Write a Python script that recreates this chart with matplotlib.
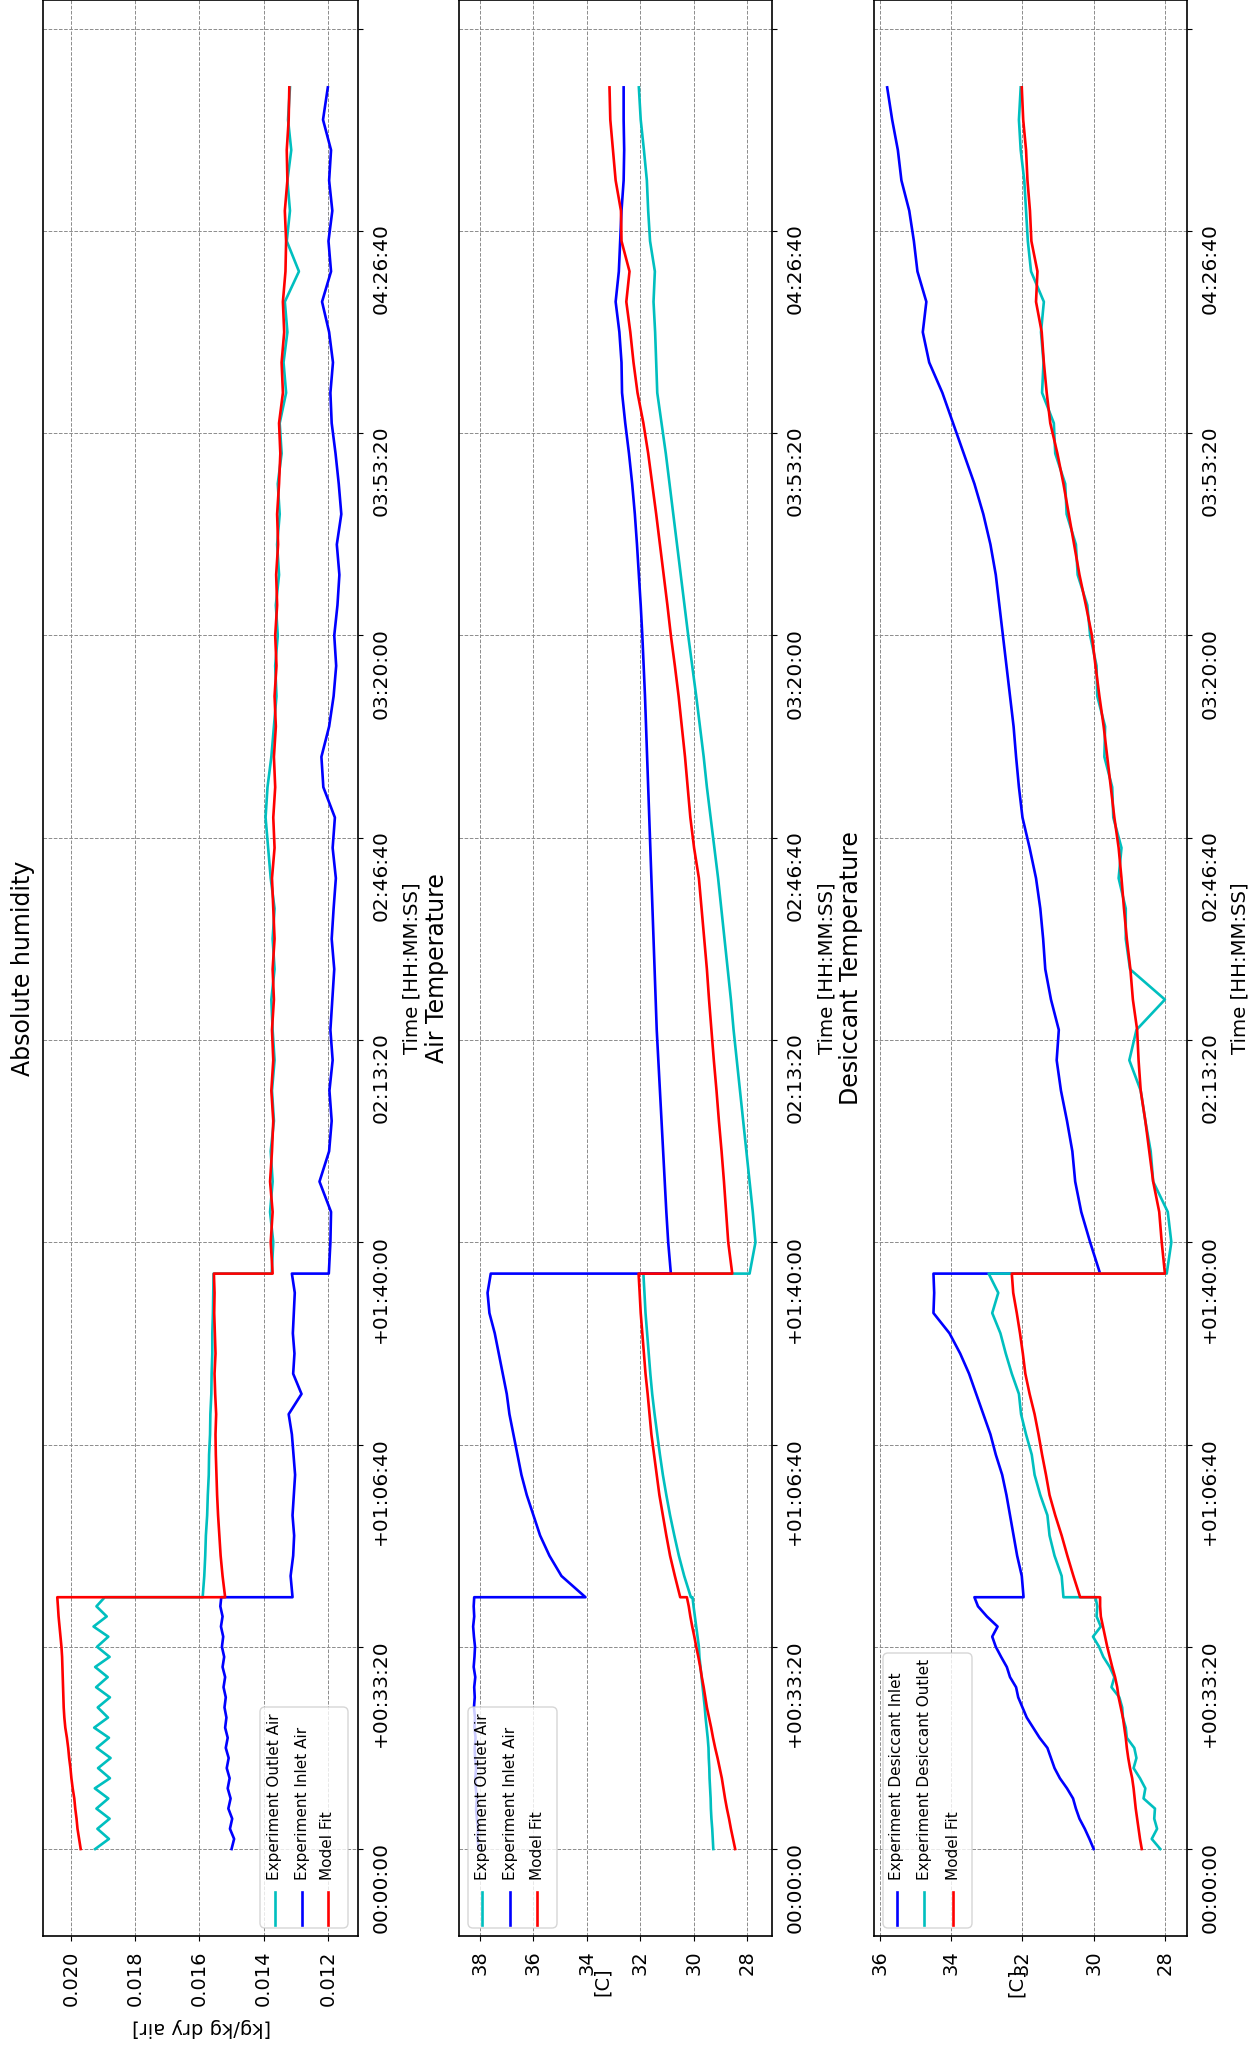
import numpy as np
import matplotlib
matplotlib.use("Agg")
import matplotlib.pyplot as plt
from matplotlib.patches import FancyBboxPatch
from matplotlib.lines import Line2D

# sample times [s]: warm-up phase, first switch, second switch
t_a = np.append(np.arange(0, 2500, 100), 2490)
t_b = np.concatenate([[2490], np.arange(2700, 5600, 200), [5690]])
t_c = np.concatenate([[5690], np.arange(6000, 17200, 300), [17420]])
time = np.concatenate([t_a, t_b, t_c])

time_ticks = [0, 2000, 4000, 6000, 8000, 10000, 12000, 14000, 16000, 18000]
time_labels = ["00:00:00", "+00:33:20", "+01:06:40", "+01:40:00", "02:13:20",
               "02:46:40", "03:20:00", "03:53:20", "04:26:40", ""]

# absolute humidity [kg/kg dry air]
hum_outlet_a = [0.01925, 0.01882, 0.01918, 0.01880, 0.01921, 0.01884, 0.01926, 0.01879, 0.01916, 0.01877,
                0.01920, 0.01882, 0.01928, 0.01885, 0.01917, 0.01879, 0.01922, 0.01886, 0.01925, 0.01880,
                0.01919, 0.01884, 0.01930, 0.01889, 0.01921, 0.01895]
hum_outlet_b = [0.01590, 0.01585, 0.01582, 0.01580, 0.01576, 0.01574, 0.01571, 0.01570, 0.01567, 0.01566,
                0.01563, 0.01562, 0.01560, 0.01560, 0.01558, 0.01557, 0.01556]
hum_outlet_c = [0.01375, 0.01370, 0.01380, 0.01372, 0.01378, 0.01368, 0.01374, 0.01366, 0.01372, 0.01376,
                0.01366, 0.01372, 0.01366, 0.01378, 0.01386, 0.01394, 0.01388, 0.01376, 0.01368, 0.01360,
                0.01364, 0.01356, 0.01362, 0.01352, 0.01358, 0.01350, 0.01356, 0.01344, 0.01350, 0.01330,
                0.01338, 0.01326, 0.01334, 0.01290, 0.01328, 0.01318, 0.01326, 0.01314, 0.01324, 0.01318]

hum_inlet_a = [0.01500, 0.01492, 0.01505, 0.01498, 0.01510, 0.01503, 0.01512, 0.01506, 0.01515, 0.01509,
               0.01518, 0.01512, 0.01520, 0.01516, 0.01522, 0.01518, 0.01525, 0.01520, 0.01528, 0.01523,
               0.01530, 0.01526, 0.01533, 0.01528, 0.01535, 0.01532]
hum_inlet_b = [0.01310, 0.01316, 0.01308, 0.01305, 0.01310, 0.01306, 0.01302, 0.01307, 0.01312, 0.01322,
               0.01282, 0.01308, 0.01304, 0.01309, 0.01306, 0.01303, 0.01312]
hum_inlet_c = [0.01197, 0.01192, 0.01190, 0.01226, 0.01196, 0.01188, 0.01195, 0.01185, 0.01192, 0.01186,
               0.01180, 0.01188, 0.01182, 0.01175, 0.01185, 0.01178, 0.01214, 0.01220, 0.01196, 0.01182,
               0.01174, 0.01180, 0.01170, 0.01164, 0.01172, 0.01158, 0.01166, 0.01176, 0.01188, 0.01192,
               0.01184, 0.01196, 0.01218, 0.01190, 0.01198, 0.01186, 0.01196, 0.01190, 0.01215, 0.01200]

hum_fit_a = [0.01970, 0.01975, 0.01980, 0.01983, 0.01987, 0.01990, 0.01995, 0.01999, 0.02002, 0.02006,
             0.02009, 0.02013, 0.02018, 0.02021, 0.02023, 0.02024, 0.02025, 0.02026, 0.02027, 0.02028,
             0.02030, 0.02033, 0.02036, 0.02039, 0.02041, 0.02043]
hum_fit_b = [0.01520, 0.01528, 0.01534, 0.01538, 0.01542, 0.01545, 0.01547, 0.01549, 0.01550, 0.01548,
             0.01551, 0.01553, 0.01550, 0.01552, 0.01554, 0.01553, 0.01555]
hum_fit_c = [0.01372, 0.01378, 0.01372, 0.01380, 0.01374, 0.01370, 0.01376, 0.01370, 0.01374, 0.01368,
             0.01372, 0.01366, 0.01370, 0.01374, 0.01366, 0.01370, 0.01364, 0.01368, 0.01362, 0.01366,
             0.01360, 0.01364, 0.01358, 0.01361, 0.01355, 0.01358, 0.01352, 0.01348, 0.01352, 0.01340,
             0.01344, 0.01336, 0.01340, 0.01332, 0.01330, 0.01334, 0.01326, 0.01328, 0.01322, 0.01320]

# air temperature [C]
air_outlet_a = [29.26, 29.28, 29.30, 29.33, 29.35, 29.36, 29.38, 29.40, 29.41, 29.43,
                29.44, 29.47, 29.51, 29.55, 29.58, 29.62, 29.66, 29.70, 29.74, 29.78,
                29.80, 29.85, 29.90, 29.95, 30.00, 30.04]
air_outlet_b = [30.10, 30.35, 30.55, 30.72, 30.88, 31.02, 31.15, 31.26, 31.36, 31.46,
                31.55, 31.62, 31.68, 31.74, 31.80, 31.84, 31.88]
air_outlet_c = [27.90, 27.68, 27.78, 27.90, 28.02, 28.14, 28.26, 28.38, 28.50, 28.60,
                28.72, 28.84, 28.96, 29.08, 29.22, 29.36, 29.50, 29.62, 29.76, 29.90,
                30.05, 30.20, 30.34, 30.48, 30.62, 30.76, 30.90, 31.04, 31.20, 31.36,
                31.40, 31.44, 31.50, 31.45, 31.63, 31.70, 31.75, 31.86, 31.98, 32.05]

air_inlet_a = [38.05, 38.10, 38.08, 38.12, 38.15, 38.12, 38.16, 38.18, 38.15, 38.19,
               38.20, 38.17, 38.21, 38.19, 38.23, 38.20, 38.22, 38.18, 38.24, 38.21,
               38.19, 38.23, 38.26, 38.22, 38.24, 38.22]
air_inlet_b = [34.05, 34.95, 35.40, 35.75, 36.00, 36.25, 36.45, 36.60, 36.75, 36.90,
               37.00, 37.15, 37.30, 37.45, 37.65, 37.72, 37.60]
air_inlet_c = [30.85, 30.95, 31.02, 31.08, 31.14, 31.20, 31.26, 31.32, 31.38, 31.42,
               31.46, 31.50, 31.54, 31.58, 31.62, 31.66, 31.70, 31.74, 31.78, 31.82,
               31.87, 31.92, 31.98, 32.05, 32.12, 32.20, 32.30, 32.42, 32.56, 32.68,
               32.70, 32.78, 32.92, 32.80, 32.75, 32.70, 32.62, 32.60, 32.62, 32.62]

air_fit_a = [28.44, 28.52, 28.60, 28.67, 28.75, 28.82, 28.88, 28.94, 29.02, 29.10,
             29.19, 29.27, 29.34, 29.42, 29.50, 29.56, 29.62, 29.69, 29.75, 29.82,
             29.90, 29.97, 30.05, 30.12, 30.18, 30.25]
air_fit_b = [30.50, 30.70, 30.88, 31.02, 31.15, 31.28, 31.38, 31.48, 31.58, 31.65,
             31.72, 31.80, 31.86, 31.92, 31.98, 32.02, 32.06]
air_fit_c = [28.55, 28.70, 28.78, 28.86, 28.95, 29.05, 29.14, 29.24, 29.33, 29.42,
             29.50, 29.60, 29.70, 29.80, 29.98, 30.12, 30.22, 30.32, 30.44, 30.56,
             30.70, 30.85, 30.98, 31.12, 31.26, 31.40, 31.55, 31.70, 31.88, 32.10,
             32.25, 32.37, 32.52, 32.40, 32.70, 32.72, 32.92, 33.02, 33.12, 33.15]

# desiccant temperature [C]
des_inlet_a = [30.00, 30.12, 30.25, 30.40, 30.50, 30.58, 30.75, 30.95, 31.10, 31.20,
               31.30, 31.52, 31.70, 31.88, 32.00, 32.12, 32.18, 32.35, 32.44, 32.60,
               32.75, 32.85, 32.70, 33.00, 33.25, 33.35]
des_inlet_b = [31.97, 32.02, 32.15, 32.25, 32.35, 32.45, 32.57, 32.75, 32.90, 33.10,
               33.30, 33.50, 33.75, 34.05, 34.50, 34.48, 34.50]
des_inlet_c = [29.82, 30.10, 30.35, 30.52, 30.60, 30.75, 30.92, 31.04, 30.98, 31.20,
               31.36, 31.42, 31.50, 31.62, 31.80, 32.00, 32.10, 32.18, 32.25, 32.35,
               32.45, 32.55, 32.65, 32.75, 32.90, 33.10, 33.35, 33.65, 33.95, 34.25,
               34.62, 34.80, 34.70, 34.95, 35.05, 35.18, 35.40, 35.50, 35.66, 35.80]

des_outlet_a = [28.13, 28.37, 28.22, 28.30, 28.28, 28.60, 28.55, 28.70, 28.88, 28.80,
                28.86, 29.07, 29.10, 29.18, 29.20, 29.28, 29.50, 29.42, 29.55, 29.73,
                29.85, 30.02, 29.80, 29.92, 29.90, 29.95]
des_outlet_b = [30.85, 30.90, 31.10, 31.24, 31.30, 31.50, 31.66, 31.74, 31.90, 32.04,
                32.10, 32.30, 32.47, 32.62, 32.85, 32.68, 32.95]
des_outlet_c = [27.95, 27.82, 27.92, 28.33, 28.40, 28.55, 28.68, 29.00, 28.80, 28.00,
                28.98, 29.10, 29.10, 29.30, 29.22, 29.45, 29.48, 29.70, 29.68, 29.90,
                29.92, 30.10, 30.18, 30.45, 30.50, 30.76, 30.80, 31.08, 31.12, 31.45,
                31.41, 31.48, 31.40, 31.76, 31.85, 31.90, 31.95, 32.05, 32.10, 32.05]

des_fit_a = [28.65, 28.70, 28.74, 28.78, 28.82, 28.85, 28.88, 28.92, 28.98, 29.03,
             29.07, 29.10, 29.14, 29.18, 29.24, 29.30, 29.34, 29.40, 29.48, 29.55,
             29.62, 29.68, 29.74, 29.80, 29.82, 29.82]
des_fit_b = [30.38, 30.57, 30.74, 30.90, 31.08, 31.24, 31.34, 31.45, 31.55, 31.66,
             31.80, 31.92, 31.99, 32.07, 32.16, 32.26, 32.30]
des_fit_c = [28.00, 28.09, 28.16, 28.33, 28.44, 28.55, 28.68, 28.74, 28.78, 28.90,
             28.97, 29.07, 29.15, 29.22, 29.30, 29.42, 29.52, 29.62, 29.72, 29.84,
             29.95, 30.05, 30.22, 30.40, 30.55, 30.70, 30.85, 31.02, 31.22, 31.32,
             31.40, 31.46, 31.62, 31.58, 31.75, 31.79, 31.86, 31.90, 31.98, 32.02]

W, H = 1259, 2049
fig = plt.figure(figsize=(W / 100, H / 100), dpi=100)


def fx(px):
    return px / W


def fy(py):
    return 1 - py / H


def joined(a, b, c):
    return np.concatenate([a, b, c])


def make_panel(left, width, xlim, ticks, fmt):
    ax = fig.add_axes([fx(left), fy(1936), width / W, 1936 / H])
    ax.set_xlim(*xlim)
    ax.set_ylim(-860, 18284)
    ax.set_xticks(ticks)
    ax.set_xticklabels([fmt % v for v in ticks])
    ax.set_yticks(time_ticks)
    ax.set_yticklabels(time_labels)
    ax.yaxis.tick_right()
    ax.tick_params(axis="x", labelrotation=90, labelsize=14, pad=7)
    ax.tick_params(axis="y", labelrotation=90, labelsize=14.5, pad=6)
    ax.grid(True, linestyle="--", color="0.55", linewidth=0.7)
    for sp in ax.spines.values():
        sp.set_linewidth(1.2)
    return ax


def draw_legend(box, cols, handles, top_text=1880):
    x0, x1, y0, y1 = box
    frame = FancyBboxPatch((fx(x0), fy(y1)), fx(x1) - fx(x0), fy(y0) - fy(y1),
                           boxstyle="round,pad=0,rounding_size=0.004",
                           mutation_aspect=W / H, transform=fig.transFigure,
                           fc="white", ec="0.8", alpha=0.8, zorder=5)
    fig.add_artist(frame)
    for xc, (color, label) in zip(cols, handles):
        fig.add_artist(Line2D([fx(xc), fx(xc)], [fy(1892), fy(1925)], color=color,
                              lw=1.9, transform=fig.transFigure, zorder=6))
        fig.text(fx(xc), fy(top_text), label, rotation=90, rotation_mode="anchor",
                 ha="left", va="center", fontsize=11, zorder=6)


lw = 1.9

# absolute humidity
ax1 = make_panel(43, 315, (0.020875, 0.01106), [0.012, 0.014, 0.016, 0.018, 0.020], "%.3f")
ax1.plot(joined(hum_outlet_a, hum_outlet_b, hum_outlet_c), time, color="c", lw=lw)
ax1.plot(joined(hum_inlet_a, hum_inlet_b, hum_inlet_c), time, color="b", lw=lw)
ax1.plot(joined(hum_fit_a, hum_fit_b, hum_fit_c), time, color="r", lw=lw)
draw_legend((260, 348, 1707, 1928), [275, 302, 328],
            [("c", "Experiment Outlet Air"), ("b", "Experiment Inlet Air"), ("r", "Model Fit")])

# air temperature
ax2 = make_panel(459, 313, (38.79, 27.06), [28, 30, 32, 34, 36, 38], "%d")
ax2.plot(joined(air_outlet_a, air_outlet_b, air_outlet_c), time, color="c", lw=lw)
ax2.plot(joined(air_inlet_a, air_inlet_b, air_inlet_c), time, color="b", lw=lw)
ax2.plot(joined(air_fit_a, air_fit_b, air_fit_c), time, color="r", lw=lw)
draw_legend((468, 557, 1707, 1928), [482, 510, 537],
            [("c", "Experiment Outlet Air"), ("b", "Experiment Inlet Air"), ("r", "Model Fit")])

# desiccant temperature
ax3 = make_panel(874, 313, (36.17, 27.38), [28, 30, 32, 34, 36], "%d")
ax3.plot(joined(des_inlet_a, des_inlet_b, des_inlet_c), time, color="b", lw=lw)
ax3.plot(joined(des_outlet_a, des_outlet_b, des_outlet_c), time, color="c", lw=lw)
ax3.plot(joined(des_fit_a, des_fit_b, des_fit_c), time, color="r", lw=lw)
draw_legend((883, 972, 1653, 1928), [897, 924, 953],
            [("b", "Experiment Desiccant Inlet"), ("c", "Experiment Desiccant Outlet"), ("r", "Model Fit")])

# titles and axis labels
fig.text(fx(23), fy(968), "Absolute humidity", rotation=90, ha="center", va="center", fontsize=17)
fig.text(fx(437), fy(968), "Air Temperature", rotation=90, ha="center", va="center", fontsize=17)
fig.text(fx(851), fy(968), "Desiccant Temperature", rotation=90, ha="center", va="center", fontsize=17)
for xc in (412, 827, 1240):
    fig.text(fx(xc), fy(968), "Time [HH:MM:SS]", rotation=90, ha="center", va="center", fontsize=14.2)
fig.text(fx(202), fy(2028), "[kg/kg dry air]", rotation=180, ha="center", va="center", fontsize=14)
fig.text(fx(602), fy(1982), "[C]", rotation=90, ha="center", va="center", fontsize=14)
fig.text(fx(1016), fy(1983), "[C]", rotation=90, ha="center", va="center", fontsize=14)

fig.savefig("out.png", dpi=100)
